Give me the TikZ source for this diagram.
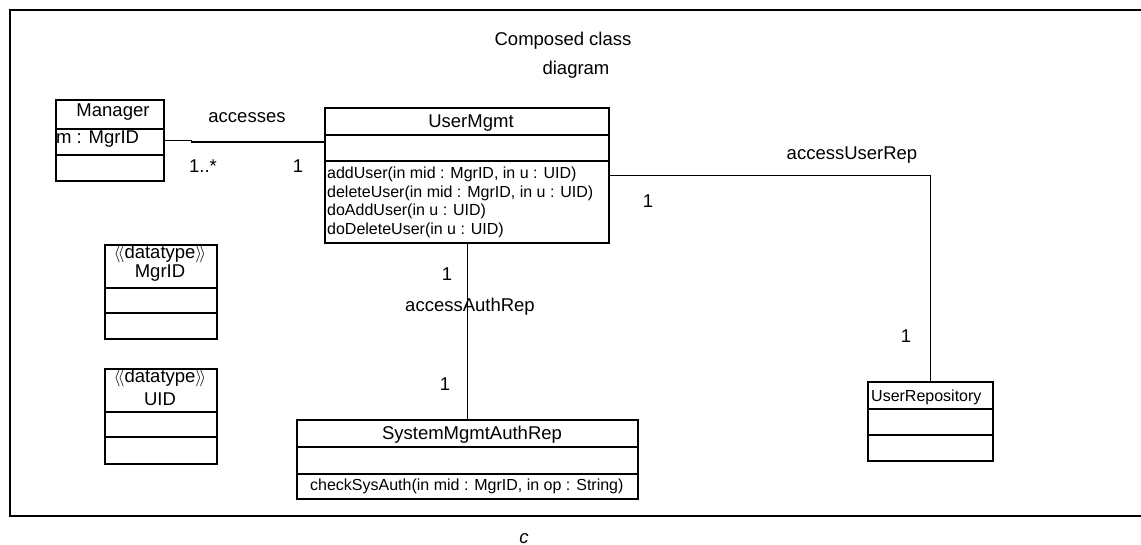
\documentclass[tikz,border=0pt]{standalone}
\usepackage{fontspec}
\setmainfont{Liberation Sans}
\begin{document}
\begin{tikzpicture}[x=1pt,y=-1pt,
  box/.style={draw,line width=1.6pt,rectangle,inner sep=0pt,anchor=north west},
  div/.style={line width=1.6pt},
  conn/.style={line width=1.5pt},
  frame/.style={line width=1.7pt},
  lbl/.style={font=\fontsize{18.5}{22}\selectfont,inner sep=0pt,anchor=base},
  sm/.style={font=\fontsize{16}{19}\selectfont,inner sep=0pt,anchor=base west}]
\useasboundingbox (0,0) rectangle (1141,545);
% frame (open on the right)
\draw[frame] (1141,10) -- (10,10) -- (10,516) -- (1141,516);
\node[lbl] (t1) at (563,46) {Composed class};
\node[lbl] (t2) at (576,75) {diagram};
% Manager
\node[box,minimum width=108pt,minimum height=81pt] (mgr) at (55,99) {};
\draw[div] (mgr.west |- 0,129) -- (mgr.east |- 0,129);
\draw[div] (mgr.west |- 0,155) -- (mgr.east |- 0,155);
\node[lbl] (mgrn) at (113,117) {Manager};
\node[lbl,anchor=base west] (mgra) at (56,144) {m : MgrID};
% UserMgmt
\node[box,minimum width=284pt,minimum height=135pt] (um) at (324,107) {};
\draw[div] (um.west |- 0,135) -- (um.east |- 0,135);
\draw[div] (um.west |- 0,161) -- (um.east |- 0,161);
\node[lbl] (umn) at (471,128) {UserMgmt};
\node[sm] (m1) at (327,179) {addUser(in mid : MgrID, in u : UID)};
\node[sm] (m2) at (327,197.5) {deleteUser(in mid : MgrID, in u : UID)};
\node[sm] (m3) at (327,216) {doAddUser(in u : UID)};
\node[sm] (m4) at (327,234.5) {doDeleteUser(in u : UID)};
% datatypes
\node[box,minimum width=112pt,minimum height=94pt] (dm) at (104,244) {};
\draw[div] (dm.west |- 0,288) -- (dm.east |- 0,288);
\draw[div] (dm.west |- 0,313) -- (dm.east |- 0,313);
\node[lbl] (dms) at (160,259) {$\langle\!\langle$datatype$\rangle\!\rangle$};
\node[lbl] (dmn) at (160,278) {MgrID};
\node[box,minimum width=112pt,minimum height=95pt] (du) at (104,368) {};
\draw[div] (du.west |- 0,412) -- (du.east |- 0,412);
\draw[div] (du.west |- 0,437) -- (du.east |- 0,437);
\node[lbl] (dus) at (160,382) {$\langle\!\langle$datatype$\rangle\!\rangle$};
\node[lbl] (dun) at (160,405) {UID};
% SystemMgmtAuthRep
\node[box,minimum width=341pt,minimum height=79pt] (sa) at (296,419) {};
\draw[div] (sa.west |- 0,447) -- (sa.east |- 0,447);
\draw[div] (sa.west |- 0,474) -- (sa.east |- 0,474);
\node[lbl] (san) at (472,439) {SystemMgmtAuthRep};
\node[sm] (sam) at (310,490) {checkSysAuth(in mid : MgrID, in op : String)};
% UserRepository
\node[box,minimum width=125pt,minimum height=79pt] (ur) at (867,381) {};
\draw[div] (ur.west |- 0,409) -- (ur.east |- 0,409);
\draw[div] (ur.west |- 0,435) -- (ur.east |- 0,435);
\node[sm] (urn) at (871,401) {UserRepository};
% connectors
\draw[conn] (mgr.east) -- ++(27,0) -- ++(0,1.5) -- ++(134,0);
\node[lbl] (acc) at (247,123) {accesses};
\node[lbl] (acc1) at (203,173) {1..*};
\node[lbl] (acc2) at (298,173) {1};
\draw[conn] (um.east) -- (um.east -| ur.north) -- (ur.north);
\node[lbl] (aur) at (852,160) {accessUserRep};
\node[lbl] (aur1) at (648,208) {1};
\node[lbl] (aur2) at (906,343) {1};
\draw[conn] (um.south -| sa.north) -- (sa.north);
\node[lbl] (aar) at (470,312) {accessAuthRep};
\node[lbl] (aar1) at (447,281) {1};
\node[lbl] (aar2) at (445,390) {1};
\node[lbl] (cap) at (524,543) {\itshape c};
\end{tikzpicture}
\end{document}
